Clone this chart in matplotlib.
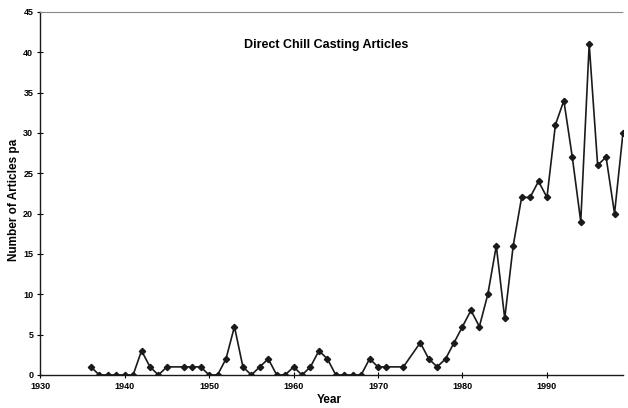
import matplotlib.pyplot as plt

plt.rcParams['font.family'] = 'Liberation Sans'

years = [1936, 1937, 1938, 1939, 1940, 1941, 1942, 1943, 1944, 1945,
         1947, 1948, 1949, 1950, 1951, 1952, 1953, 1954, 1955, 1956,
         1957, 1958, 1959, 1960, 1961, 1962, 1963, 1964, 1965, 1966,
         1967, 1968, 1969, 1970, 1971, 1973, 1975, 1976, 1977, 1978,
         1979, 1980, 1981, 1982, 1983, 1984, 1985, 1986, 1987, 1988,
         1989, 1990, 1991, 1992, 1993, 1994, 1995, 1996, 1997, 1998,
         1999]
articles = [1, 0, 0, 0, 0, 0, 3, 1, 0, 1,
            1, 1, 1, 0, 0, 2, 6, 1, 0, 1,
            2, 0, 0, 1, 0, 1, 3, 2, 0, 0,
            0, 0, 2, 1, 1, 1, 4, 2, 1, 2,
            4, 6, 8, 6, 10, 16, 7, 16, 22, 22,
            24, 22, 31, 34, 27, 19, 41, 26, 27, 20,
            30]

fig = plt.figure(figsize=(6.28, 4.08), dpi=100)
ax = fig.add_axes([0.064, 0.081, 0.928, 0.89])

ax.plot(years, articles, color='#1a1a1a', linewidth=1.2,
        marker='D', markersize=3.2, markerfacecolor='#1a1a1a',
        markeredgecolor='#1a1a1a')

ax.set_xlim(1930, 1999)
ax.set_ylim(0, 45)
ax.set_xticks(range(1930, 2000, 10))
ax.set_yticks(range(0, 46, 5))
ax.tick_params(direction='inout', length=4, width=0.8, labelsize=6.5, pad=3)
for lab in ax.get_xticklabels() + ax.get_yticklabels():
    lab.set_fontweight('bold')

ax.spines['right'].set_visible(False)
ax.spines['top'].set_color('#888888')
ax.spines['top'].set_linestyle((0, (2, 1)))
ax.spines['top'].set_linewidth(0.8)
for s in ['left', 'bottom']:
    ax.spines[s].set_linewidth(1.0)
    ax.spines[s].set_color('#1a1a1a')

ax.text(0.49, 0.91, 'Direct Chill Casting Articles', transform=ax.transAxes,
        ha='center', va='center', fontsize=9, fontweight='bold')
fig.text(0.022, 0.51, 'Number of Articles pa', rotation=90,
         ha='center', va='center', fontsize=8.5, fontweight='bold')
fig.text(0.525, 0.004, 'Year', ha='center', va='bottom',
         fontsize=8.5, fontweight='bold')

plt.savefig('out.png', dpi=100)
